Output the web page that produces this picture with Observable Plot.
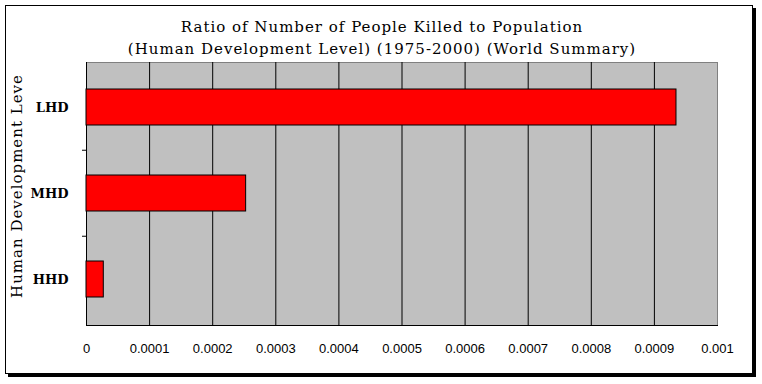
<!DOCTYPE html>
<html><head><meta charset="utf-8">
<script src="https://cdn.jsdelivr.net/npm/d3@7"></script>
<script src="https://cdn.jsdelivr.net/npm/@observablehq/plot@0.6"></script>
<style>
html,body{margin:0;padding:0;background:#fff;}
#wrap{position:relative;width:762px;height:384px;overflow:hidden;}
#box{position:absolute;left:5px;top:5px;width:746px;height:367px;border:1px solid #000;box-shadow:3px 3px 0 #000;background:#fff;}
#chart{position:absolute;left:0;top:0;}
</style></head><body>
<div id="wrap"><div id="box"></div><div id="chart"></div></div>
<script>
const categories = ["LHD", "MHD", "HHD"];
const values = [0.000935, 0.000253, 0.0000274];
const xTicks = [0, 0.0001, 0.0002, 0.0003, 0.0004, 0.0005, 0.0006, 0.0007, 0.0008, 0.0009, 0.001];
const xTickLabels = ["0", "0.0001", "0.0002", "0.0003", "0.0004", "0.0005", "0.0006", "0.0007", "0.0008", "0.0009", "0.001"];
const titleLines = ["Ratio of Number of People Killed to Population", "(Human Development Level) (1975-2000) (World Summary)"];
const yLabel = "Human Development Leve";

const data = categories.map((c, i) => ({category: c, value: values[i]}));
const W = 762, H = 384, mL = 86, mR = 45, mT = 62, mB = 59;
const padIn = 0.58, padOut = 0.31;
const step = (H - mT - mB) / (categories.length - padIn + 2 * padOut);

const chart = Plot.plot({
  width: W, height: H,
  marginLeft: mL, marginRight: mR, marginTop: mT, marginBottom: mB,
  style: {background: "transparent", overflow: "visible"},
  x: {domain: [0, 0.001], ticks: xTicks, tickFormat: d => xTickLabels[xTicks.indexOf(d)], tickSize: 0, tickPadding: 18, label: null},
  y: {domain: categories, paddingInner: padIn, paddingOuter: padOut, tickSize: 0, tickPadding: 18, label: null},
  marks: [
    Plot.frame({fill: "#c0c0c0", stroke: "#808080"}),
    Plot.ruleX(xTicks.slice(0, -1), {stroke: "#000", strokeWidth: 1}),
    Plot.frame({anchor: "bottom", stroke: "#000"}),
    Plot.barX(data, {x: "value", y: "category", fill: "#ff0000", stroke: "#000", strokeWidth: 1}),
    Plot.ruleY(categories.slice(1), {y: d => d, x1: 0, x2: 0, insetLeft: -4, dy: -step / 2, stroke: "#000"}),
    Plot.text([titleLines.join("\n")], {text: d => d, frameAnchor: "top", dx: -20, dy: -9, lineAnchor: "bottom", lineHeight: 22 / 15, fontSize: 15, fontFamily: "DejaVu Serif", fill: "#000", className: "ttl"}),
    Plot.text([yLabel], {text: d => d, frameAnchor: "left", textAnchor: "middle", rotate: -90, dx: -69, dy: -8, fontSize: 15, fontFamily: "DejaVu Serif", fill: "#000", className: "ylab"})
  ]
});
d3.select(chart).selectAll("[aria-label='x-axis tick label'] text, [aria-label='x-axis'] text")
  .style("font-family", "'Liberation Sans'").style("font-size", "13px");
d3.select(chart).selectAll("[aria-label='y-axis tick label'] text, [aria-label='y-axis'] text")
  .style("font-family", "'DejaVu Serif'").style("font-size", "13px").style("font-weight", "bold");
d3.select(chart).selectAll(".ttl text, .ylab text").style("letter-spacing", "1px");
document.getElementById("chart").appendChild(chart);
</script>
</body></html>
